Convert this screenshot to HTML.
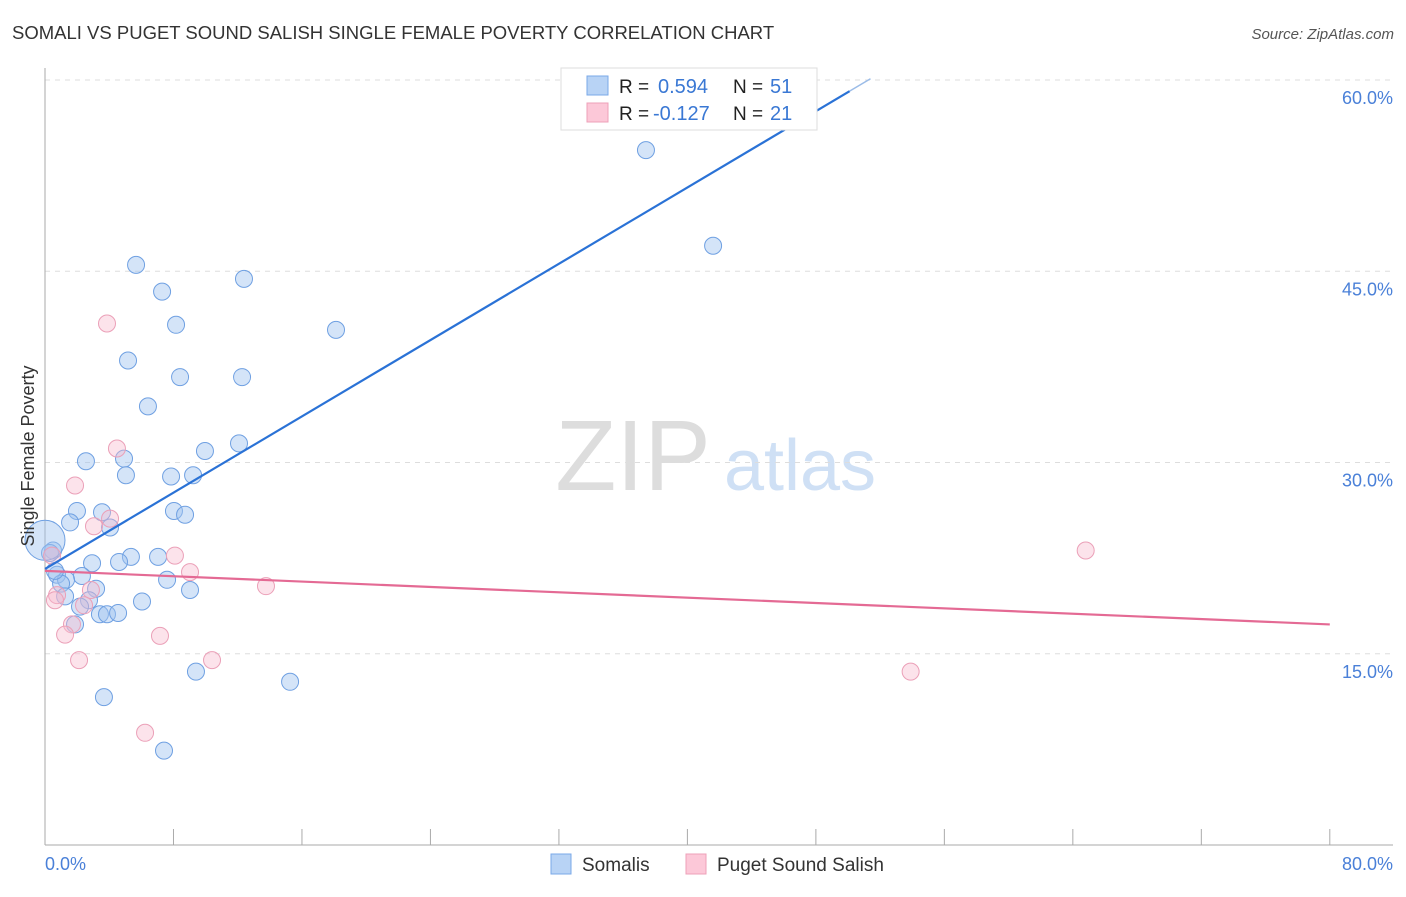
<!DOCTYPE html>
<html><head><meta charset="utf-8"><style>
body{margin:0;background:#fff;font-family:"Liberation Sans",sans-serif;}
svg text{font-family:"Liberation Sans",sans-serif;}
</style></head><body>
<svg id="chart" width="1406" height="892" xmlns="http://www.w3.org/2000/svg">
<text x="12" y="39" font-size="18.5" fill="#333">SOMALI VS PUGET SOUND SALISH SINGLE FEMALE POVERTY CORRELATION CHART</text>
<text x="1394" y="39" font-size="15" fill="#555" font-style="italic" text-anchor="end">Source: ZipAtlas.com</text>
<g>
<text x="633" y="490" font-size="100" fill="#ddd" font-family="Liberation Serif,serif" text-anchor="middle">ZIP</text>
<text x="800" y="490" font-size="72" fill="#cfe0f5" text-anchor="middle">atlas</text>
</g>
<g id="grid"></g>
<g id="axes"></g>
<g id="points"></g>
<g id="trends"></g>
<text transform="translate(34,456) rotate(-90)" font-size="18" fill="#333" text-anchor="middle">Single Female Poverty</text>
<g>
<rect x="561" y="68" width="256" height="62" fill="#fff" stroke="#ddd"/>
<rect x="587" y="76" width="21" height="19" fill="#b8d3f5" stroke="#7aa8e8"/>
<rect x="587" y="103" width="21" height="19" fill="#fcc8d8" stroke="#eea0b8"/>
<text x="619" y="93" font-size="19" fill="#222">R = </text>
<text x="658" y="93" font-size="20" fill="#3a78d4">0.594</text>
<text x="733" y="93" font-size="19" fill="#222">N = </text>
<text x="770" y="93" font-size="20" fill="#3a78d4">51</text>
<text x="619" y="120" font-size="19" fill="#222">R = </text>
<text x="653" y="120" font-size="20" fill="#3a78d4">-0.127</text>
<text x="733" y="120" font-size="19" fill="#222">N = </text>
<text x="770" y="120" font-size="20" fill="#3a78d4">21</text>
</g>
<g>
<rect x="551" y="854" width="20" height="20" fill="#b8d3f5" stroke="#7aa8e8"/>
<text x="582" y="871" font-size="19" fill="#333">Somalis</text>
<rect x="686" y="854" width="20" height="20" fill="#fcc8d8" stroke="#eea0b8"/>
<text x="717" y="871" font-size="19" fill="#333">Puget Sound Salish</text>
</g>
</svg>
<script>
const yTicks=[15,30,45,60];
const yTickLabels=["15.0%","30.0%","45.0%","60.0%"];
const xTicks=[0,8,16,24,32,40,48,56,64,72,80];
const somaliX=[37.42,41.6,5.67,12.39,7.29,8.16,18.12,5.17,8.41,12.27,6.41,12.08,9.96,2.55,4.92,5.04,7.85,9.22,1.99,3.55,8.03,8.72,4.05,1.56,0.5,5.35,7.04,4.61,2.93,0.75,2.3,1.31,1.0,7.6,9.03,3.18,1.25,2.74,6.04,2.18,3.42,3.86,4.55,1.87,9.4,15.26,3.67,7.41,0.62,0.31,0];
const somaliY=[54.5,47.0,45.5,44.4,43.4,40.8,40.4,38.0,36.7,36.7,34.4,31.5,30.9,30.1,30.3,29.0,28.9,29.0,26.2,26.1,26.2,25.9,24.9,25.3,23.1,22.6,22.6,22.2,22.1,21.2,21.1,20.8,20.5,20.8,20.0,20.1,19.5,19.2,19.1,18.7,18.1,18.1,18.2,17.3,13.6,12.8,11.6,7.4,21.5,22.9,23.9];
const pugetX=[3.86,4.48,1.87,3.05,4.05,0.44,8.09,9.03,13.76,2.86,0.75,2.43,1.68,1.25,7.16,2.12,10.4,6.23,64.8,53.9,0.62];
const pugetY=[40.9,31.1,28.2,25.0,25.6,22.7,22.7,21.4,20.3,20.0,19.6,18.8,17.3,16.5,16.4,14.5,14.5,8.8,23.1,13.6,19.2];
const somaliTrend=[21.65,0.748];
const pugetTrend=[21.5,-0.0525];
const NS="http://www.w3.org/2000/svg";
const X=v=>45+v*16.06;
const Y=v=>845-v*12.75;
function mk(t,a,p){const e=document.createElementNS(NS,t);for(const k in a)e.setAttribute(k,a[k]);document.getElementById(p).appendChild(e);return e;}
yTicks.forEach((t,i)=>{
 const l=mk('line',{x1:45,x2:1393,y1:Y(t),y2:Y(t),stroke:'#ddd','stroke-dasharray':'5,5'},'grid');
 
 
 const tx=mk('text',{x:1393,y:Y(t)+24,'font-size':18,fill:'#4a80d8','text-anchor':'end'},'axes');
 tx.textContent=yTickLabels[i];
 
 
});
const ax=mk('line',{x1:45,x2:1393,y1:845,y2:845,stroke:'#aaa'},'axes');


const ay=mk('line',{x1:45,x2:45,y1:68,y2:845,stroke:'#aaa'},'axes');


xTicks.forEach(t=>{
 const l=mk('line',{x1:X(t),x2:X(t),y1:829,y2:845,stroke:'#aaa'},'axes');
 
 
});
const x0=mk('text',{x:45,y:870,'font-size':18,fill:'#4a80d8'},'axes');x0.textContent='0.0%';


const x1=mk('text',{x:1393,y:870,'font-size':18,fill:'#4a80d8','text-anchor':'end'},'axes');x1.textContent='80.0%';


somaliX.forEach((v,i)=>{
 const big=(v===0);
 const c=mk('circle',{cx:X(v),cy:Y(somaliY[i]),r:big?20:8.5,fill:'rgba(160,196,240,0.45)',stroke:'#6fa0e2','stroke-width':1},'points');
 
 
});
pugetX.forEach((v,i)=>{
 const c=mk('circle',{cx:X(v),cy:Y(pugetY[i]),r:8.5,fill:'rgba(248,185,205,0.4)',stroke:'#eba0b8','stroke-width':1},'points');
 
 
});
const bl=mk('line',{x1:X(0),y1:Y(somaliTrend[0]),x2:X(50.1),y2:Y(somaliTrend[0]+somaliTrend[1]*50.1),stroke:'#2a72d6','stroke-width':2.2},'trends');


const bd=mk('line',{x1:X(50.1),y1:Y(somaliTrend[0]+somaliTrend[1]*50.1),x2:X(51.4),y2:Y(somaliTrend[0]+somaliTrend[1]*51.4),stroke:'#9bbce8','stroke-width':1.5},'trends');


const pl=mk('line',{x1:X(0),y1:Y(pugetTrend[0]),x2:X(80),y2:Y(pugetTrend[0]+pugetTrend[1]*80),stroke:'#e46a94','stroke-width':2.2},'trends');


</script>
</body></html>
